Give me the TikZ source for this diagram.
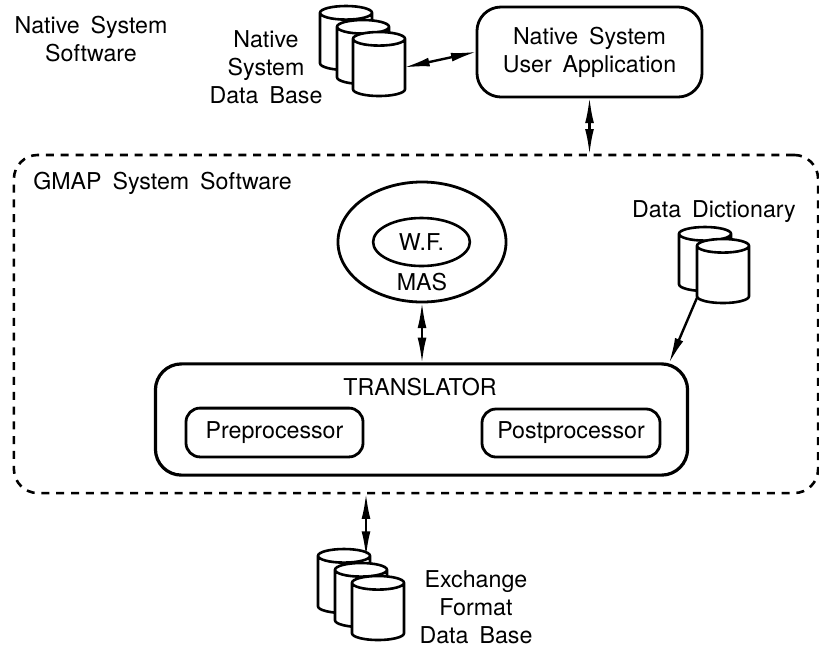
\documentclass[tikz,border=0pt]{standalone}
\usepackage{fontspec}
\setmainfont[WordSpace=1.7]{TeX Gyre Heros}
\usetikzlibrary{arrows.meta,shapes.geometric}
\tikzset{
	lbl/.style={font=\fontsize{16.5}{20}\selectfont, align=center, inner sep=0pt},
	rbox/.style={draw, line width=0.7mm, fill=white, rounded corners=#1},
	drum/.style={draw, line width=0.65mm, fill=white, shape=cylinder, shape border rotate=90, shape aspect=1.45, minimum width=1.3cm, minimum height=1.6cm, outer sep=0pt},
	link/.style={line width=0.6mm, {Latex[length=6.5mm,width=2.2mm]}-{Latex[length=6.5mm,width=2.2mm]}, shorten <=-1pt, shorten >=-1pt},
}
\begin{document}
\begin{tikzpicture}[x=0.025cm, y=-0.025cm]
			\useasboundingbox (0, 0) rectangle (819, 647);
			
			\node[lbl] (nativesoft) at (91, 39) {Native System\\Software};
			\node[lbl] (nativedbl) at (266, 67) {Native\\System\\Data Base};
			
			\node[drum] (ndb1) at (346, 44) {};
			\node[drum] (ndb2) at (363, 58) {};
			\node[drum] (ndb3) at (379, 70) {};
			
			\node[rbox=0.6cm, minimum width=5.625cm, minimum height=2.25cm, lbl] (native) at (589.5, 52) {Native System\\User Application};
			
			\node[rbox=0.6cm, line width=0.65mm, dash pattern=on 0.2cm off 0.17cm, fill=none, minimum width=20.1cm, minimum height=8.45cm] (gmap) at (416, 324) {};
			\node[lbl, anchor=west] (gmapl) at (33, 183) {GMAP System Software};
			
			\node[draw, ellipse, line width=0.7mm, minimum width=4.2cm, minimum height=3cm] (mas) at (422, 242) {};
			\node[draw, ellipse, line width=0.65mm, minimum width=2.42cm, minimum height=1.2cm, lbl] (wf) at (421.5, 242) {W.F.};
			\node[lbl] (masl) at (422, 282) {MAS};
			
			\node[lbl] (dictl) at (714, 212) {Data Dictionary};
			\node[drum] (dict1) at (705, 265) {};
			\node[drum] (dict2) at (723, 277) {};
			
			\node[rbox=0.65cm, line width=0.8mm, minimum width=13.3cm, minimum height=2.78cm] (trans) at (421.5, 419.5) {};
			\node[lbl] (transl) at (420, 387) {TRANSLATOR};
			\node[rbox=0.35cm, minimum width=4.425cm, minimum height=1.22cm, lbl] (pre) at (274.5, 432.5) {Preprocessor};
			\node[rbox=0.35cm, minimum width=4.45cm, minimum height=1.2cm, lbl] (post) at (571, 433) {Postprocessor};
			
			\node[drum] (xdb1) at (344, 587) {};
			\node[drum] (xdb2) at (361, 601) {};
			\node[drum] (xdb3) at (378, 614) {};
			\node[lbl] (xdbl) at (476, 607) {Exchange\\Format\\Data Base};
			\coordinate (xtop) at (366, 556);
			
			\draw[link] (ndb3.6) -- (native.west);
			\draw[link] (native.south) -- (native.south |- gmap.north);
			\draw[link] (mas.south) -- (mas.south |- trans.north);
			\draw[link] (xtop |- gmap.south) -- (xtop);
			\draw[line width=0.6mm, -{Latex[length=6.5mm,width=2.2mm]}, shorten >=-1pt] (dict2.-142) -- (trans.13.3);
\end{tikzpicture}
\end{document}
